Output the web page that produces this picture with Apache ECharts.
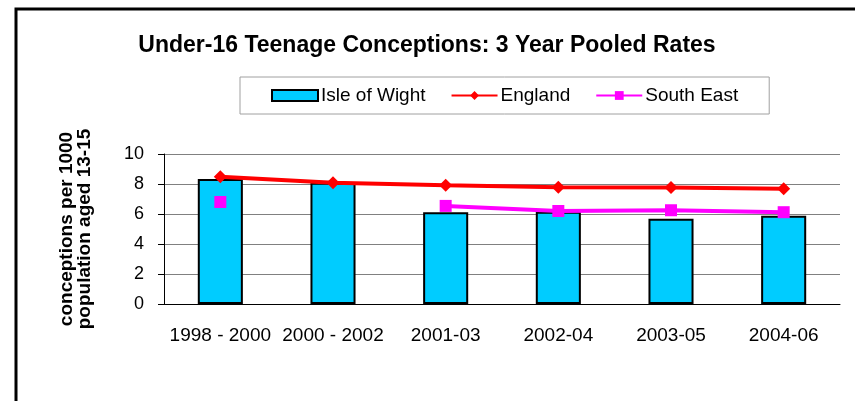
<!DOCTYPE html>
<html>
<head>
<meta charset="utf-8">
<script src="https://cdn.jsdelivr.net/npm/echarts@6/dist/echarts.min.js"></script>
<style>
  html, body { margin: 0; padding: 0; background: #fff; }
  #main { width: 855px; height: 401px; }
</style>
</head>
<body>
<div id="main"></div>
<script>
// data
const periods = ['1998 - 2000', '2000 - 2002', '2001-03', '2002-04', '2003-05', '2004-06'];
const isleOfWight = [8.33, 8.08, 6.12, 6.15, 5.69, 5.89];
const england = [8.48, 8.08, 7.92, 7.79, 7.77, 7.68];
const southEast = [6.8, null, 6.54, 6.2, 6.25, 6.12];

const chart = echarts.init(document.getElementById('main'));
const font = 'Arial, "Liberation Sans", sans-serif';

chart.setOption({
    animation: false,
    title: {
        text: 'Under-16 Teenage Conceptions: 3 Year Pooled Rates',
        left: 422,
        textAlign: 'center',
        top: 29,
        textStyle: { fontFamily: font, fontSize: 23, fontWeight: 'bold', color: '#000' }
    },
    legend: {
        left: 240,
        top: 77,
        padding: [9, 31],
        itemGap: 25,
        itemWidth: 46,
        itemHeight: 11,
        borderColor: '#a0a0a0',
        borderWidth: 1,
        textStyle: { fontFamily: font, fontSize: 19, color: '#000', padding: [0, 0, 0, -2] },
        data: [
            { name: 'Isle of Wight', icon: 'rect' },
            'England',
            'South East'
        ]
    },
    grid: { left: 164, right: 15, top: 154, bottom: 97 },
    xAxis: {
        type: 'category',
        data: periods,
        axisLine: { lineStyle: { color: '#000', width: 1 } },
        axisTick: { length: 5, lineStyle: { color: '#808080' } },
        axisLabel: { interval: 0, margin: 22, fontFamily: font, fontSize: 19, color: '#000' }
    },
    yAxis: {
        type: 'value',
        min: 0,
        max: 10,
        interval: 2,
        name: 'conceptions per 1000\npopulation aged 13-15',
        nameLocation: 'middle',
        nameRotate: 90,
        nameGap: 70,
        nameTextStyle: { fontFamily: font, fontSize: 19, fontWeight: 'bold', color: '#000', lineHeight: 18 },
        axisLine: { show: true, lineStyle: { color: '#000', width: 1 } },
        axisTick: { show: true, length: 6, lineStyle: { color: '#000' } },
        axisLabel: { margin: 20, fontFamily: font, fontSize: 18, color: '#000' },
        splitLine: { lineStyle: { color: '#808080', width: 1 } }
    },
    series: [
        {
            name: 'Isle of Wight',
            type: 'bar',
            data: isleOfWight,
            barWidth: '40%',
            itemStyle: { color: '#00CCFF', borderColor: '#000', borderWidth: 2 }
        },
        {
            name: 'England',
            type: 'line',
            data: england,
            symbol: 'diamond',
            symbolSize: 13,
            lineStyle: { color: '#FF0000', width: 4 },
            itemStyle: { color: '#FF0000' }
        },
        {
            name: 'South East',
            type: 'line',
            data: southEast,
            symbol: 'rect',
            symbolSize: 12,
            connectNulls: false,
            showAllSymbol: true,
            lineStyle: { color: '#FF00FF', width: 4 },
            itemStyle: { color: '#FF00FF' }
        }
    ],
    graphic: [
        {
            type: 'rect',
            shape: { x: 16, y: 9, width: 860, height: 420 },
            style: { fill: 'none', stroke: '#000', lineWidth: 3 },
            silent: true
        }
    ]
});
</script>
</body>
</html>
